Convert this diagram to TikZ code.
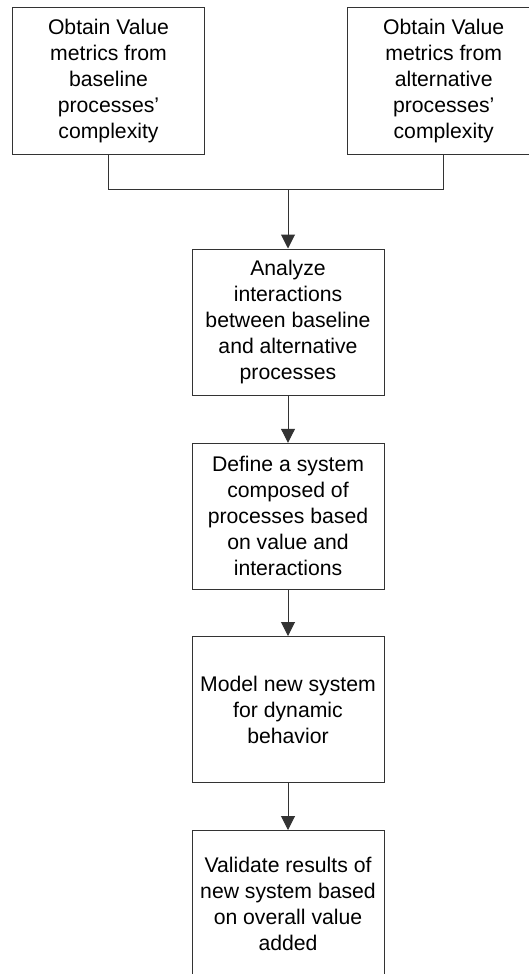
\documentclass[tikz,border=0pt]{standalone}
\usepackage{fontspec}
\setmainfont{Liberation Sans}
\usetikzlibrary{arrows.meta}
\begin{document}
\begin{tikzpicture}[x=1pt,y=-1pt,
  stepbox/.style={draw=black!80, line width=1pt, fill=white, minimum width=192pt,
    minimum height=146pt, inner sep=0pt, align=center,
    font=\fontsize{21.2}{26}\selectfont},
  link/.style={draw=black!80, line width=1pt},
  flow/.style={link, -{Triangle[width=14pt,length=14pt]}}]
\useasboundingbox (0,0) rectangle (529,974);
% two sources at the top
\node[stepbox] (L) at (108.5,81) {Obtain Value\\metrics from\\baseline\\processes’\\complexity};
\node[stepbox] (R) at (443.7,81) {Obtain Value\\metrics from\\alternative\\processes’\\complexity};
% main chain
\node[stepbox] (A) at (288,322) {Analyze\\interactions\\between baseline\\and alternative\\processes};
\node[stepbox] (D) at (288,516.3) {Define a system\\composed of\\processes based\\on value and\\interactions};
\node[stepbox] (M) at (288,709.5) {Model new system\\for dynamic\\behavior};
\node[stepbox] (V) at (288,903.5) {Validate results of\\new system based\\on overall value\\added};
% merge of the two sources
\coordinate (J) at (288,189.5);
\draw[link] (L.south) |- (J) -| (R.south);
\draw[flow] (J) -- (A.north);
\draw[flow] (A) -- (D);
\draw[flow] (D) -- (M);
\draw[flow] (M) -- (V);
\end{tikzpicture}
\end{document}
